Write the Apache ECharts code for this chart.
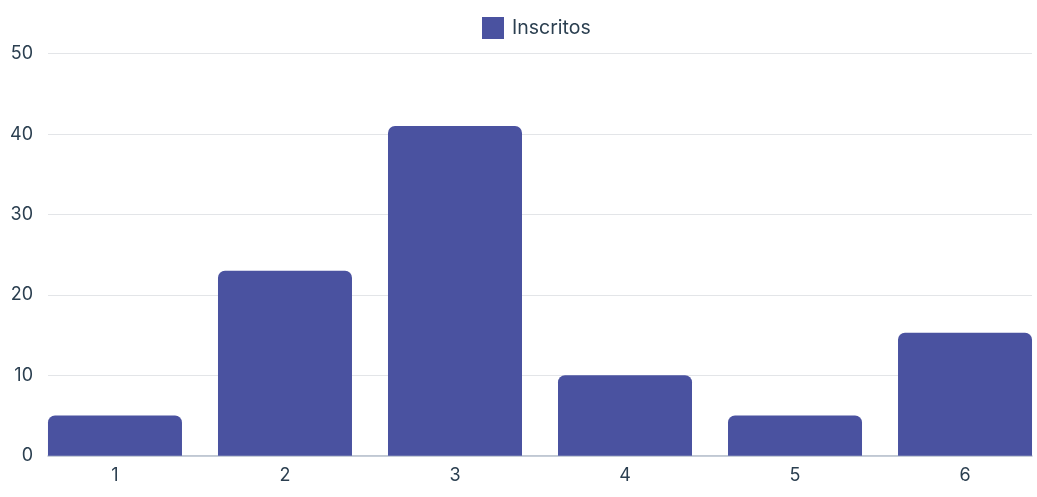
<!DOCTYPE html>
<html>
<head>
<meta charset="utf-8">
<script src="https://cdn.jsdelivr.net/npm/echarts@6/dist/echarts.min.js"></script>
<style>
html,body{margin:0;padding:0;background:#fff;}
#chart{width:1037px;height:497px;}
</style>
</head>
<body>
<div id="chart"></div>
<script>
var categories = [1, 2, 3, 4, 5, 6];
var inscritos = [5, 23, 41, 10, 5, 15.3];
var seriesName = 'Inscritos';
var yTicks = [0, 10, 20, 30, 40, 50];

var FONT = 'Inter';
var TEXT = '#2b3f50';
var BAR = '#4a52a0';

var chart = echarts.init(document.getElementById('chart'), null, {renderer: 'canvas'});
chart.setOption({
  animation: false,
  textStyle: {fontFamily: FONT},
  legend: {
    top: 12, left: 477,
    itemWidth: 22, itemHeight: 22, itemGap: 10,
    icon: 'rect',
    textStyle: {fontFamily: FONT, fontSize: 19.5, color: TEXT, padding: [2, 0, 0, 3], letterSpacing: 0.8},
    data: [seriesName]
  },
  grid: {left: 48, right: 5, top: 53.7, bottom: 41.3, containLabel: false},
  xAxis: {
    type: 'value',
    min: 0.606, max: 6.394,
    splitLine: {show: false},
    axisLine: {show: true, lineStyle: {color: '#b5bfcc', width: 1.5}},
    axisTick: {show: false},
    axisLabel: {
      customValues: categories,
      formatter: function (v) { return String(Math.round(v)); },
      fontFamily: FONT, fontSize: 18, color: TEXT, margin: 11
    }
  },
  yAxis: {
    type: 'value', min: yTicks[0], max: yTicks[yTicks.length - 1], interval: 10,
    axisLine: {show: false}, axisTick: {show: false},
    splitLine: {lineStyle: {color: '#e3e5e8', width: 1}},
    axisLabel: {fontFamily: FONT, fontSize: 18, color: TEXT, margin: 15}
  },
  series: [{
    name: seriesName,
    type: 'bar',
    barWidth: 134,
    data: categories.map(function (c, i) { return [c, inscritos[i]]; }),
    itemStyle: {color: BAR, borderRadius: [7, 7, 0, 0]}
  }]
});
</script>
</body>
</html>
